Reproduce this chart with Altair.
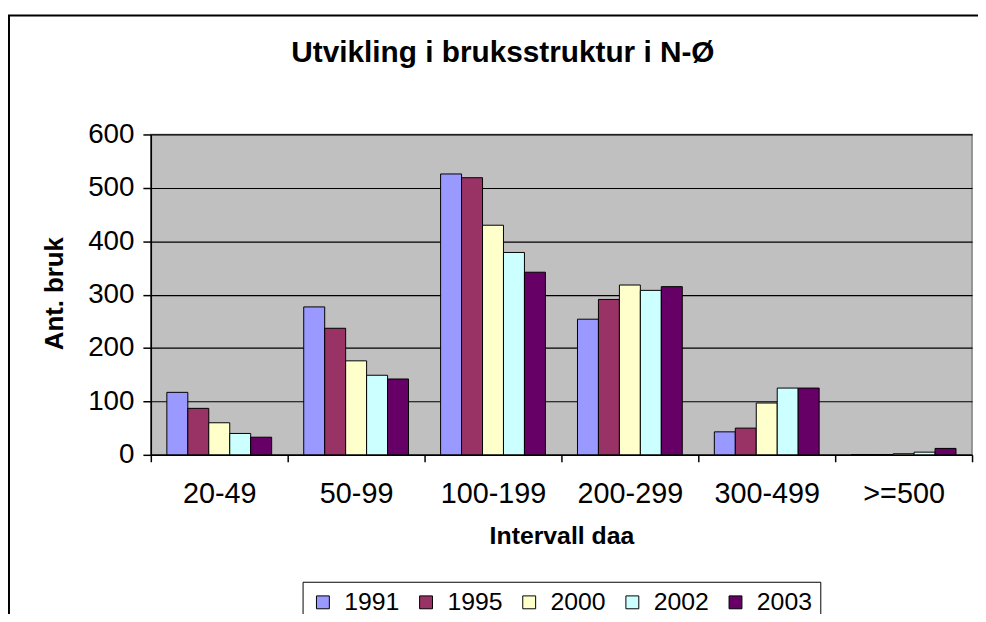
import altair as alt
import pandas as pd

categories = ["20-49", "50-99", "100-199", "200-299", "300-499", ">=500"]
years = ["1991", "1995", "2000", "2002", "2003"]
v1991 = [117, 277, 526, 254, 43, 0]
v1995 = [87, 237, 519, 291, 50, 0]
v2000 = [60, 176, 430, 318, 97, 2]
v2002 = [40, 149, 379, 308, 125, 5]
v2003 = [33, 142, 342, 315, 125, 12]
colors = ["#9999FF", "#993366", "#FFFFCC", "#CCFFFF", "#660066"]
y_ticks = [0, 100, 200, 300, 400, 500, 600]

series = [v1991, v1995, v2000, v2002, v2003]
rows = []
for yr, vals in zip(years, series):
    for c, v in zip(categories, vals):
        rows.append({"Intervall": c, "År": yr, "Antall": v})
df = pd.DataFrame(rows)

FONT = "Liberation Sans"

bars = alt.Chart(df).mark_bar(stroke="black", strokeWidth=1, opacity=1).encode(
    x=alt.X(
        "Intervall:N",
        sort=categories,
        scale=alt.Scale(paddingInner=0, paddingOuter=0),
        axis=alt.Axis(
            labelAngle=0, tickBand="extent", grid=False,
            domainColor="black", domainWidth=1.5, tickColor="black", tickWidth=1.5,
            tickSize=7, labelFontSize=29, labelPadding=18, labelColor="black",
            title="Intervall daa", titleFontSize=25, titleFontWeight="bold",
            titleY=81, titleBaseline="middle", titleColor="black",
        ),
    ),
    xOffset=alt.XOffset(
        "År:N", sort=years, scale=alt.Scale(paddingInner=0, paddingOuter=0.765)
    ),
    y=alt.Y(
        "Antall:Q",
        scale=alt.Scale(domain=[0, 600], nice=False),
        axis=alt.Axis(
            values=y_ticks, grid=True, gridColor="black", gridWidth=1.2,
            domainColor="black", domainWidth=1.5, tickColor="black", tickWidth=1.5,
            tickSize=8, labelFontSize=28, labelPadding=9, labelColor="black",
            title="Ant. bruk", titleFontSize=26, titleFontWeight="bold",
            titleX=-97, titleY=160, titleAngle=270, titleAlign="center",
            titleBaseline="middle", titleColor="black",
        ),
    ),
    color=alt.Color(
        "År:N", sort=years,
        scale=alt.Scale(domain=years, range=colors),
        legend=alt.Legend(
            orient="none", legendX=153, legendY=451, direction="horizontal",
            columns=5, title=None, strokeColor="black", fillColor="white",
            padding=8, symbolType="square", symbolSize=169,
            symbolStrokeColor="black", symbolStrokeWidth=1, symbolOpacity=1,
            labelFontSize=25, labelOffset=9, columnPadding=14, labelColor="black",
        ),
    ),
)

one = alt.Data(values=[{"k": 1}])
border_left = alt.Chart(one).mark_rule(color="black", strokeWidth=2).encode(
    x=alt.value(-143), y=alt.value(-120), y2=alt.value(490)
)
border_top = alt.Chart(one).mark_rule(color="black", strokeWidth=2).encode(
    x=alt.value(-144), x2=alt.value(840), y=alt.value(-120)
)

chart = alt.layer(bars, border_left, border_top).properties(
    width=828,
    height=323,
    autosize=alt.AutoSizeParams(type="none"),
    padding={"left": 144, "top": 125, "right": 6, "bottom": 158},
    title=alt.TitleParams(
        "Utvikling i bruksstruktur i N-Ø", fontSize=30, fontWeight="bold",
        font=FONT, anchor="middle", dx=-59, offset=-78, baseline="alphabetic",
        color="black",
    ),
).configure(
    font=FONT,
    background="white",
).configure_view(
    fill="#C0C0C0", stroke="#808080", strokeWidth=1.5
).configure_axis(
    labelFont=FONT, titleFont=FONT
).configure_legend(
    labelFont=FONT
)

chart.save("out.html", embed_options={"renderer": "svg", "actions": False})
